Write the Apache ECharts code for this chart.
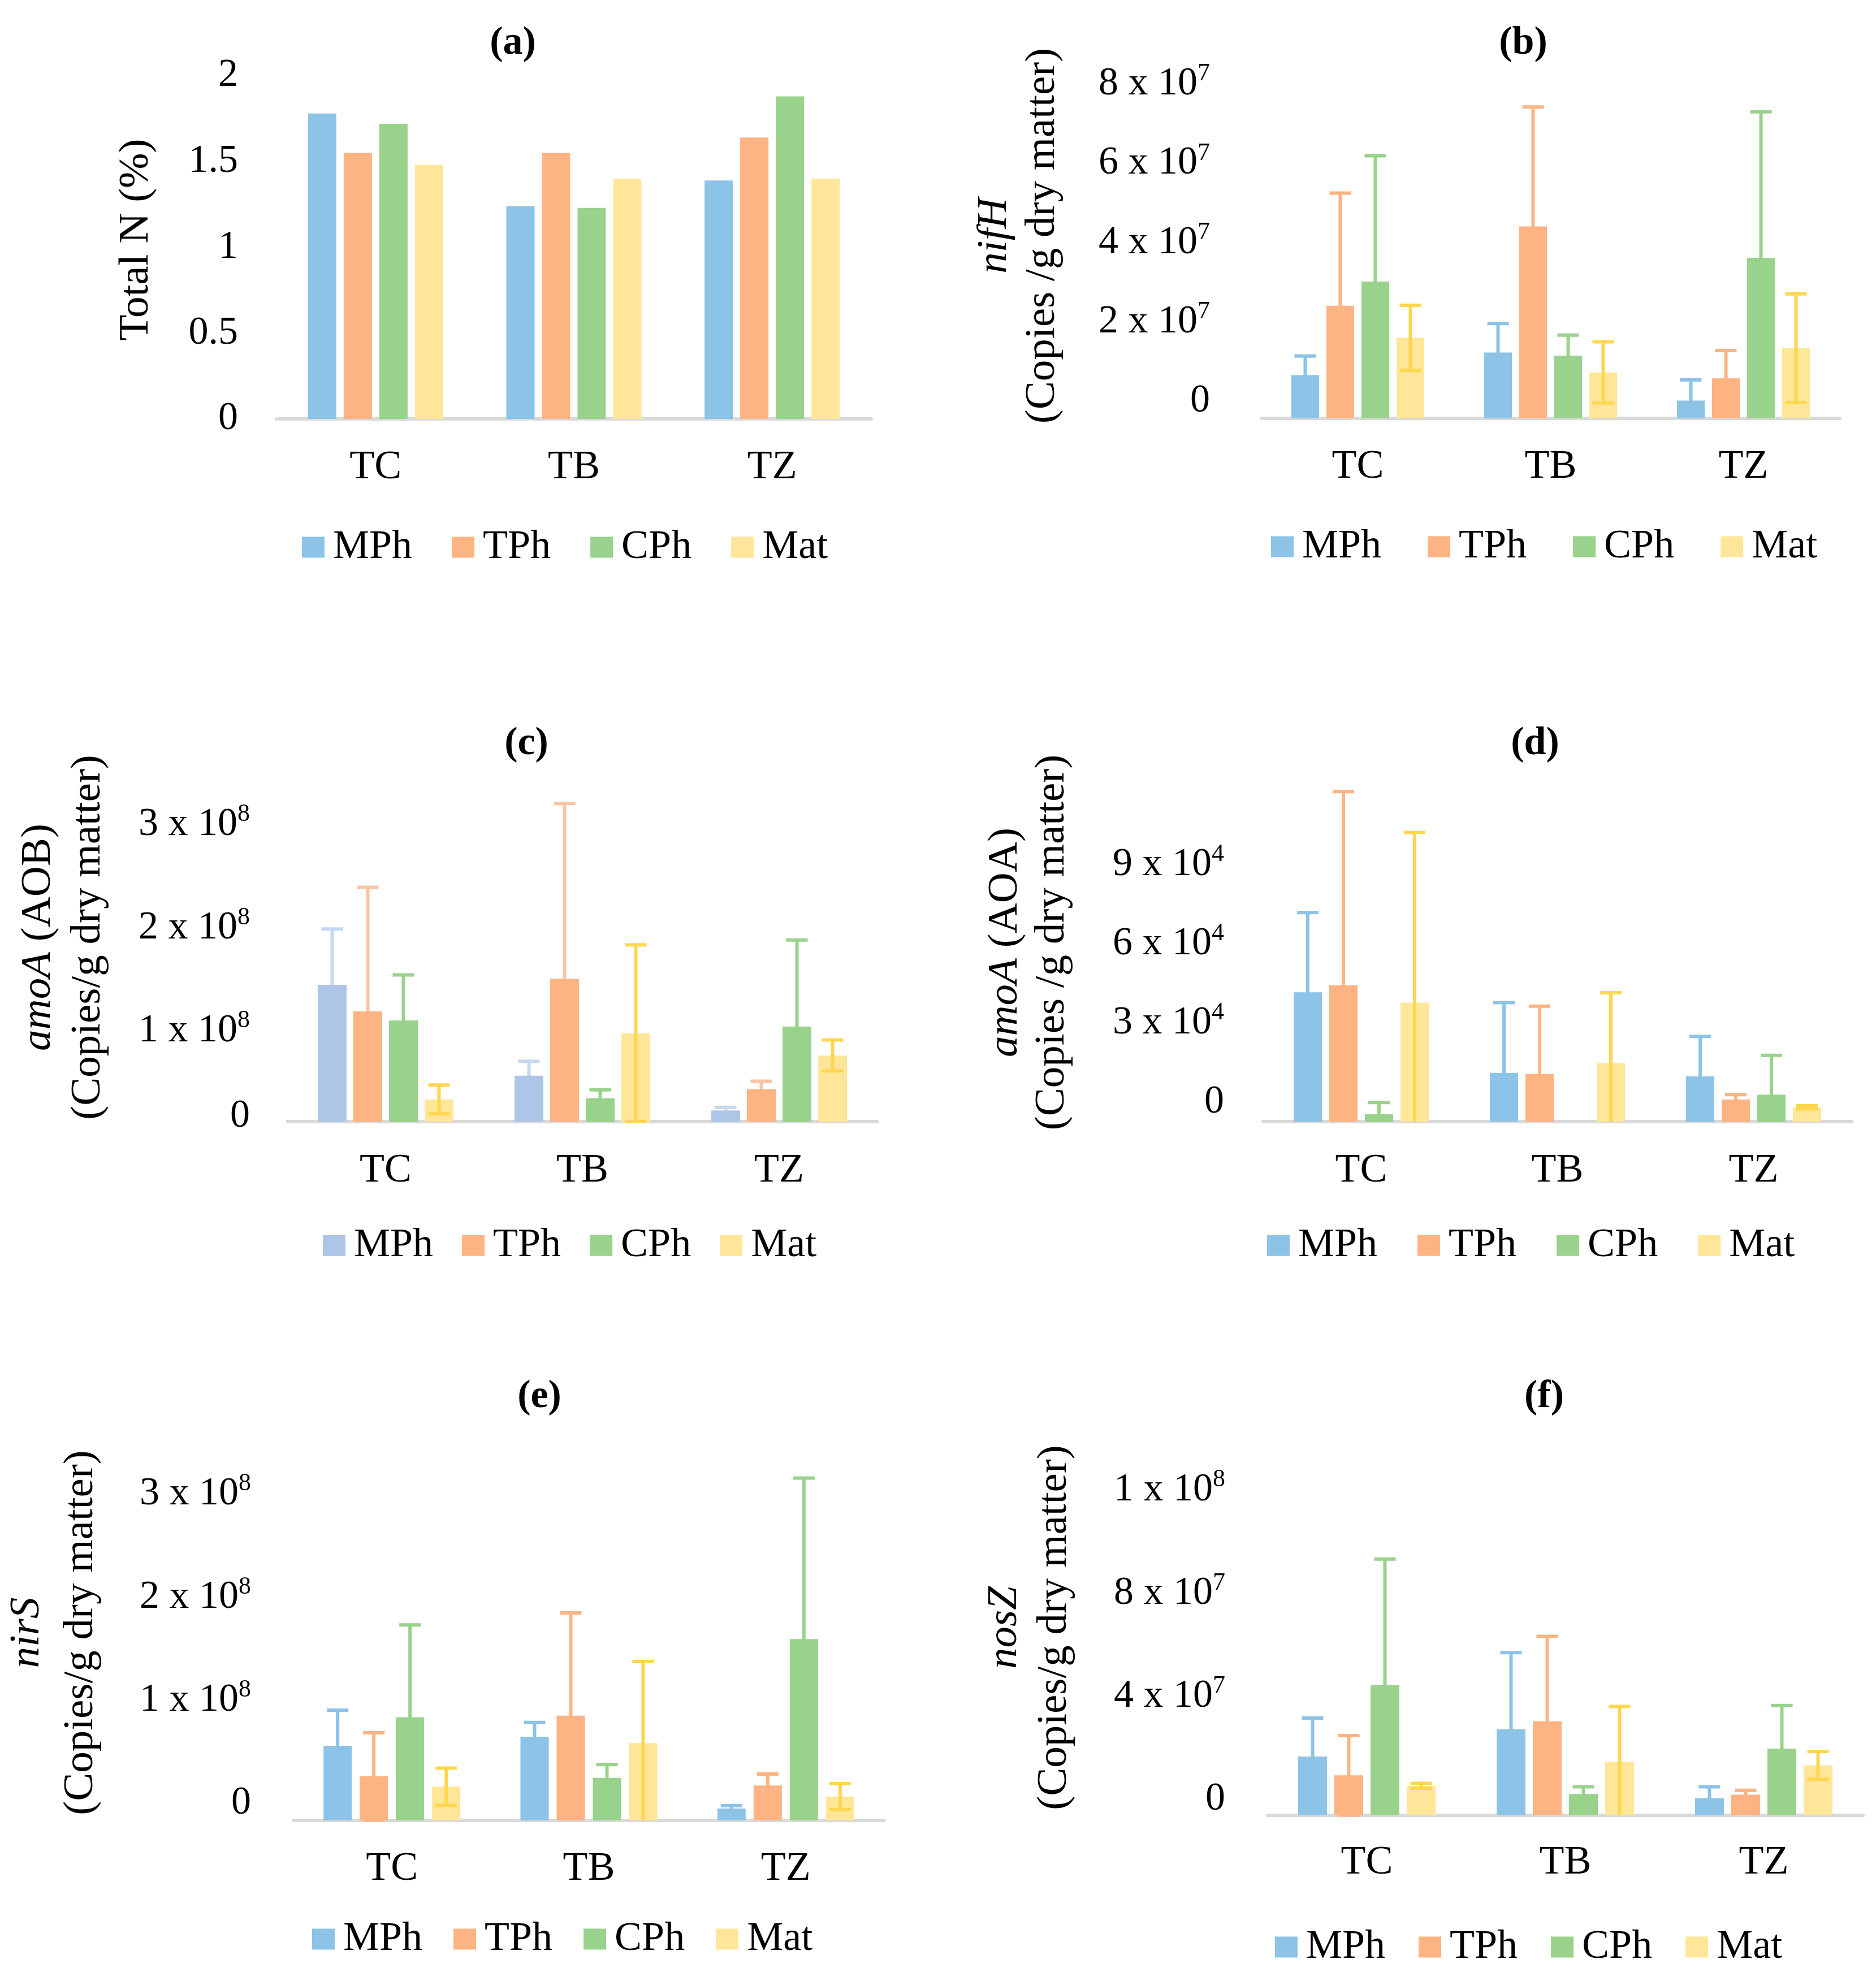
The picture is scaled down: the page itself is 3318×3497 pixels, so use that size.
<!DOCTYPE html>
<html><head><meta charset="utf-8">
<script src="https://cdn.jsdelivr.net/npm/echarts@6/dist/echarts.min.js"></script>
<style>html,body{margin:0;padding:0;background:#fff}#c{width:3318px;height:3497px}</style>
</head><body><div id="c"></div>
<script>
const categories = ['TC', 'TB', 'TZ'];
const seriesNames = ['MPh', 'TPh', 'CPh', 'Mat'];

// (a) Total N (%)
const aMPh = [1.78, 1.24, 1.39];
const aTPh = [1.55, 1.55, 1.64];
const aCPh = [1.72, 1.23, 1.88];
const aMat = [1.48, 1.40, 1.40];
const aTicks = [0, 0.5, 1, 1.5, 2];
const aTickLabels = ['0', '0.5', '1', '1.5', '2'];

// (b) nifH
const bMPh = [1.09e7, 1.66e7, 0.45e7];
const bTPh = [2.84e7, 4.84e7, 1.01e7];
const bCPh = [3.45e7, 1.58e7, 4.05e7];
const bMat = [2.03e7, 1.16e7, 1.77e7];
const bMPhErr = [0.48e7, 0.73e7, 0.52e7];
const bTPhErr = [2.84e7, 3.01e7, 0.70e7];
const bCPhErr = [3.17e7, 0.52e7, 3.68e7];
const bMatErr = [0.82e7, 0.77e7, 1.37e7];
const bTicks = [0, 2e7, 4e7, 6e7, 8e7];
const bTickLabels = ['0', '2 x 10^7', '4 x 10^7', '6 x 10^7', '8 x 10^7'];

// (c) amoA (AOB)
const cMPh = [1.327e8, 0.446e8, 0.108e8];
const cTPh = [1.069e8, 1.385e8, 0.315e8];
const cCPh = [0.981e8, 0.227e8, 0.923e8];
const cMat = [0.215e8, 0.858e8, 0.642e8];
const cMPhErr = [0.542e8, 0.139e8, 0.030e8];
const cTPhErr = [1.204e8, 1.700e8, 0.077e8];
const cCPhErr = [0.442e8, 0.081e8, 0.839e8];
const cMatErr = [0.140e8, 0.857e8, 0.150e8];
const cTicks = [0, 1e8, 2e8, 3e8];
const cTickLabels = ['0', '1 x 10^8', '2 x 10^8', '3 x 10^8'];

// (d) amoA (AOA)
const dMPh = [4.89e4, 1.845e4, 1.71e4];
const dTPh = [5.16e4, 1.80e4, 0.84e4];
const dCPh = [0.285e4, 0, 1.02e4];
const dMat = [4.50e4, 2.22e4, 0.54e4];
const dMPhErr = [3.015e4, 2.655e4, 1.515e4];
const dTPhErr = [7.32e4, 2.565e4, 0.18e4];
const dCPhErr = [0.435e4, 0, 1.485e4];
const dMatErr = [6.44e4, 2.655e4, 0.06e4];
const dTicks = [0, 3e4, 6e4, 9e4];
const dTickLabels = ['0', '3 x 10^4', '6 x 10^4', '9 x 10^4'];

// (e) nirS
const eMPh = [0.723e8, 0.812e8, 0.115e8];
const eTPh = [0.427e8, 1.015e8, 0.338e8];
const eCPh = [1.000e8, 0.412e8, 1.758e8];
const eMat = [0.327e8, 0.750e8, 0.231e8];
const eMPhErr = [0.346e8, 0.138e8, 0.027e8];
const eTPhErr = [0.423e8, 0.997e8, 0.112e8];
const eCPhErr = [0.896e8, 0.130e8, 1.561e8];
const eMatErr = [0.180e8, 0.790e8, 0.127e8];
const eTicks = [0, 1e8, 2e8, 3e8];
const eTickLabels = ['0', '1 x 10^8', '2 x 10^8', '3 x 10^8'];

// (f) nosZ
const fMPh = [2.28e7, 3.34e7, 0.66e7];
const fTPh = [1.55e7, 3.65e7, 0.80e7];
const fCPh = [5.05e7, 0.83e7, 2.58e7];
const fMat = [1.14e7, 2.08e7, 1.94e7];
const fMPhErr = [1.49e7, 2.97e7, 0.45e7];
const fTPhErr = [1.54e7, 3.29e7, 0.17e7];
const fCPhErr = [4.89e7, 0.28e7, 1.68e7];
const fMatErr = [0.10e7, 2.14e7, 0.54e7];
const fTicks = [0, 4e7, 8e7, 12e7];
const fTickLabels = ['0', '4 x 10^7', '8 x 10^7', '1 x 10^8'];

const panelTitles = ['(a)', '(b)', '(c)', '(d)', '(e)', '(f)'];
const axisNames = [
  'Total N (%)',
  '{i|nifH}\n(Copies /g dry matter)',
  '{i|amoA} (AOB)\n(Copies/g dry matter)',
  '{i|amoA} (AOA)\n(Copies /g dry matter)',
  '{i|nirS}\n(Copies/g dry matter)',
  '{i|nosZ}\n(Copies/g dry matter)'
];

const FONT = '"Liberation Serif", "Times New Roman", serif';
const baseColors = ['#8DC3E7', '#FDB382', '#98D28B', '#FFE699'];
const baseErr = ['#8DC3E7', '#FDB382', '#98D28B', '#FFD64F'];
const cColors = ['#ADC6E8', '#FDB382', '#98D28B', '#FFE699'];
const cErr = ['#C6D8F0', '#FBC4A2', '#98D28B', '#FFD64F'];

const panels = [
  {vals: [aMPh, aTPh, aCPh, aMat], errs: null, ticks: aTicks, labels: aTickLabels, interval: 0.5, max: 2.089},
  {vals: [bMPh, bTPh, bCPh, bMat], errs: [bMPhErr, bTPhErr, bCPhErr, bMatErr], ticks: bTicks, labels: bTickLabels, interval: 2e7, max: 9.209e7},
  {vals: [cMPh, cTPh, cCPh, cMat], errs: [cMPhErr, cTPhErr, cCPhErr, cMatErr], ticks: cTicks, labels: cTickLabels, interval: 1e8, max: 3.575e8},
  {vals: [dMPh, dTPh, dCPh, dMat], errs: [dMPhErr, dTPhErr, dCPhErr, dMatErr], ticks: dTicks, labels: dTickLabels, interval: 3e4, max: 13.557e4},
  {vals: [eMPh, eTPh, eCPh, eMat], errs: [eMPhErr, eTPhErr, eCPhErr, eMatErr], ticks: eTicks, labels: eTickLabels, interval: 1e8, max: 3.640e8},
  {vals: [fMPh, fTPh, fCPh, fMat], errs: [fMPhErr, fTPhErr, fCPhErr, fMatErr], ticks: fTicks, labels: fTickLabels, interval: 4e7, max: 14.56e7}
];

// layout (pixels)
const layouts = [
  {left: 489, top: 107, width: 1052, height: 634, bw: 50, gap: 13, lblMargin: 68, lblPad: [0, 0, 0, 0], catMargin: 50, nameGap: 205, nameLH: 86, title: [907, 77], legLeft: 534, legTop: 932, legGap: 70, colors: baseColors, errColors: baseErr},
  {left: 2231, top: 94, width: 1023, height: 646, bw: 49, gap: 13, lblMargin: 91, lblPad: [0, 0, 60, 0], catMargin: 50, nameGap: 344, nameLH: 85, title: [2694, 77], legLeft: 2248, legTop: 931, legGap: 82, colors: baseColors, errColors: baseErr},
  {left: 508, top: 1332, width: 1044, height: 652, bw: 51, gap: 12, lblMargin: 66, lblPad: [44, 0, 0, 0], zeroPad: [0, 0, 62, 0], catMargin: 51, nameGap: 308, nameLH: 88, title: [931, 1316], legLeft: 571, legTop: 2167, legGap: 51, colors: cColors, errColors: cErr},
  {left: 2234, top: 1350, width: 1041, height: 634, bw: 50, gap: 13, lblMargin: 69, lblPad: [0, 0, 68, 0], catMargin: 51, nameGap: 331, nameLH: 83, title: [2715, 1316], legLeft: 2241, legTop: 2167, legGap: 71, colors: baseColors, errColors: baseErr},
  {left: 514, top: 2556, width: 1050, height: 664, bw: 50, gap: 14, lblMargin: 75, lblPad: [0, 0, 60, 0], catMargin: 50, nameGap: 328, nameLH: 95, title: [954, 2471], legLeft: 552, legTop: 3394, legGap: 55, colors: baseColors, errColors: baseErr},
  {left: 2242, top: 2547, width: 1053, height: 664, bw: 51, gap: 13, lblMargin: 75, lblPad: [0, 0, 56, 0], catMargin: 48, nameGap: 333, nameLH: 88, title: [2731, 2471], legLeft: 2255, legTop: 3408, legGap: 59, colors: baseColors, errColors: baseErr}
];

function tickFormatter(P, L) {
  return function (v) {
    const idx = P.ticks.findIndex(t => Math.abs(t - v) < P.interval * 1e-6);
    if (idx < 0) return '';
    const s = P.labels[idx];
    if (s.indexOf('^') >= 0) {
      const parts = s.split('^');
      return '{m|' + parts[0] + '}{s|' + parts[1] + '}';
    }
    if (L.zeroPad && s === '0') return '{z|0}';
    return '{m|' + s + '}';
  };
}

function makeErrRender(k, step, cap, color) {
  return function (params, api) {
    const cat = api.value(0), v = api.value(1), e = api.value(2);
    if (!e) return null;
    const hi = api.coord([cat, v + e]);
    const lowVal = Math.max(0, v - e);
    const lo = api.coord([cat, lowVal]);
    const x = hi[0] + (k - 1.5) * step;
    const st = {stroke: color, lineWidth: 6};
    const children = [
      {type: 'line', shape: {x1: x, y1: lo[1], x2: x, y2: hi[1]}, style: st},
      {type: 'line', shape: {x1: x - cap / 2, y1: hi[1], x2: x + cap / 2, y2: hi[1]}, style: st}
    ];
    if (v - e > 0) {
      children.push({type: 'line', shape: {x1: x - cap / 2, y1: lo[1], x2: x + cap / 2, y2: lo[1]}, style: st});
    }
    return {type: 'group', children: children};
  };
}

const grid = [], xAxis = [], yAxis = [], series = [], legend = [], graphic = [];
panels.forEach((P, i) => {
  const L = layouts[i];
  grid.push({left: L.left, top: L.top, width: L.width, height: L.height, containLabel: false});
  xAxis.push({
    gridIndex: i, type: 'category', data: categories,
    axisTick: {show: false},
    axisLine: {lineStyle: {color: '#D9D9D9', width: 6}},
    axisLabel: {margin: L.catMargin, fontFamily: FONT, fontSize: 72, color: '#000'}
  });
  const rich = {
    m: {fontFamily: FONT, fontSize: 70, color: '#000', lineHeight: 80},
    s: {fontFamily: FONT, fontSize: 44, color: '#000', lineHeight: 44, verticalAlign: 'top'},
    z: {fontFamily: FONT, fontSize: 70, color: '#000', lineHeight: 80, padding: L.zeroPad || [0, 0, 0, 0]}
  };
  yAxis.push({
    gridIndex: i, type: 'value', min: 0, max: P.max, interval: P.interval,
    splitLine: {show: false}, axisLine: {show: false}, axisTick: {show: false},
    axisLabel: {margin: L.lblMargin, padding: L.lblPad, fontFamily: FONT, fontSize: 70, color: '#000',
      showMaxLabel: false, formatter: tickFormatter(P, L), rich: rich},
    name: axisNames[i], nameLocation: 'middle', nameGap: L.nameGap, nameRotate: 90,
    nameTextStyle: {fontFamily: FONT, fontSize: 75, color: '#000', lineHeight: L.nameLH,
      rich: {i: {fontFamily: FONT, fontSize: 75, fontStyle: 'italic', color: '#000', lineHeight: L.nameLH}}}
  });
  const step = L.bw + L.gap;
  P.vals.forEach((vals, k) => {
    series.push({
      type: 'bar', name: seriesNames[k], xAxisIndex: i, yAxisIndex: i, data: vals,
      barWidth: L.bw, barGap: (L.gap / L.bw * 100).toFixed(1) + '%',
      itemStyle: {color: L.colors[k]}, z: 2, silent: true
    });
  });
  if (P.errs) {
    P.errs.forEach((errs, k) => {
      series.push({
        type: 'custom', name: seriesNames[k] + ' error ' + panelTitles[i], xAxisIndex: i, yAxisIndex: i,
        data: categories.map((c, j) => [j, P.vals[k][j], errs[j]]),
        encode: {x: 0, y: 1},
        renderItem: makeErrRender(k, step, 38, L.errColors[k]),
        z: k === 3 ? 3 : 1, silent: true
      });
    });
  }
  legend.push({
    left: L.legLeft, top: L.legTop, padding: 0, itemGap: L.legGap, itemWidth: 40, itemHeight: 37,
    icon: 'rect', selectedMode: false,
    textStyle: {fontFamily: FONT, fontSize: 72, color: '#000', padding: [0, 0, 0, 10]},
    data: seriesNames.map((n, k) => ({name: n, itemStyle: {color: L.colors[k]}}))
  });
  graphic.push({
    type: 'text', x: L.title[0], y: L.title[1],
    style: {text: panelTitles[i], font: 'bold 70px ' + FONT, fill: '#000',
      align: 'center', verticalAlign: 'middle', textAlign: 'center', textVerticalAlign: 'middle'}
  });
});

const chart = echarts.init(document.getElementById('c'), null, {width: 3318, height: 3497});
chart.setOption({
  backgroundColor: '#fff',
  animation: false,
  grid: grid, xAxis: xAxis, yAxis: yAxis, series: series, legend: legend, graphic: graphic
});
</script>
</body></html>
